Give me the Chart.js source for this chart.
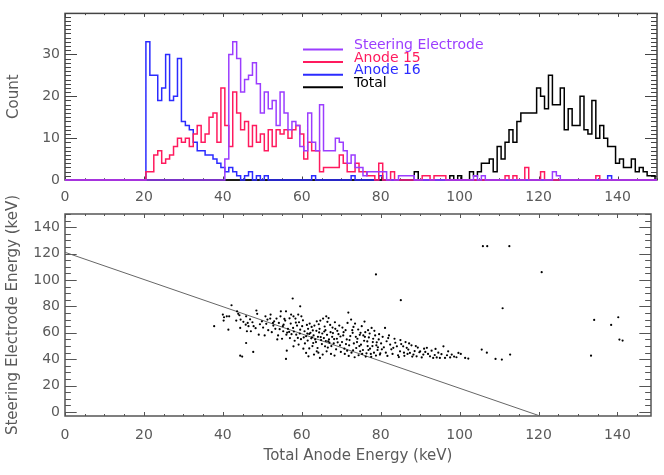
<!DOCTYPE html>
<html>
<head>
<meta charset="utf-8">
<script src="https://cdn.jsdelivr.net/npm/chart.js@4.4.1/dist/chart.umd.min.js"></script>
<style>
  html, body { margin: 0; padding: 0; background: #fff; }
  #wrap { position: relative; width: 664px; height: 475px; }
  #hist { position: absolute; left: 0; top: 0; }
  #scatter { position: absolute; left: 0; top: 160px; }
</style>
</head>
<body>
<div id="wrap">
  <canvas id="hist" width="664" height="208"></canvas>
  <canvas id="scatter" width="664" height="315"></canvas>
</div>
<script>
// 1 keV bins, centres 0..150
var energyBins = [];
for (var e = 0; e <= 150; e++) energyBins.push(e);

// counts per bin, starting at the given bin
var steeringFrom = 41;
var steeringCounts = [
  5,30,33,29,21,24,25,28,23,16,
  21,17,19,13,21,16,12,14,13,8,
  7,16,9,7,18,7,7,7,10,9,
  7,4,6,3,3,1,2,2,2,2,
  2,0,0,0,1,1,1,1,0,0,
  0,0,0,0,0,0,0,0,0,0,
  0,0,0,1,0,1,0,0,0,0,
  0,0,0,0,0,0,0,0,0,0,
  0,0,0,2,1
];

var anode15From = 21;
var anode15Counts = [
  2,2,6,7,4,5,6,8,10,9,
  10,8,11,13,9,11,15,16,9,22,
  13,8,21,16,12,14,8,13,9,11,
  7,12,8,12,11,12,10,12,13,11,
  5,9,7,7,2,3,3,3,3,6,
  4,2,2,4,2,2,1,1,0,4,
  0,0,2,0,0,0,0,0,0,0,
  1,1,0,1,1,1,0,0,0,0,
  0,0,0,0,0,0,0,0,0,0,
  0,1,0,1,0,0,3,0,0,0,
  2,0,0,0,0,0,0,0,0,0,
  0,0,0,0,1
];

var anode16From = 21;
var anode16Counts = [
  33,25,25,19,22,30,19,20,29,14,
  13,12,9,7,7,6,6,5,4,3,
  2,3,2,1,0,1,2,0,1,0,
  1,0,0,0,0,0,0,0,0,0,
  0,0,1,0,0,0,0,0,0,0,
  0,0,1,0,0,0,0,0,0,1,
  0,0,0,0,0,0,0,0,0,0,
  0,0,0,0,0,0,0,0,0,0,
  0,0,0,0,0,0,0,0,0,0,
  0,0,0,0,0,0,0,0,0,0,
  0,0,0,0,0,0,0,0,0,0,
  0,0,0,0,0,0,0,1
];

var totalFrom = 89;
var totalCounts = [
  2,0,0,0,0,0,0,0,0,1,
  0,1,0,0,2,1,2,4,4,5,
  2,8,5,9,12,9,14,16,16,16,
  16,22,20,17,25,18,18,22,12,17,
  13,13,20,12,11,19,10,13,10,8,
  8,4,5,3,3,5,2,3,2,1,1
];

var seriesNames = ['Steering Electrode', 'Anode 15', 'Anode 16', 'Total'];
var seriesColors = ['#9b3dff', '#ff1a5e', '#2b2bff', '#000000'];

// scatter: [total anode energy, steering electrode energy] in keV
var eventPairs = [
  [37.8,65],[40,73.8],[40.2,69.3],[40.3,71.8],[41,72.5],[41.6,72.5],[41.4,62.4],[42.2,80.9],[43.6,76.3],[43.9,74.4],
  [44.2,73.3],[44.5,70],[43.4,69.3],[44.4,63.7],[45.2,68.3],[45.8,66.2],[46.3,67.5],[45.9,72.5],[44.4,42.7],[44.9,42],
  [46.1,61.2],[47.1,61.2],[46.5,65],[47.8,65],[47.7,45.5],[45.9,52.3],[48.5,76.9],[48.7,74.4],[49.1,58.6],[49.9,68.7],
  [50.8,72.5],[51.3,70],[52,70.8],[52.7,67.5],[52.1,73.8],[46.9,70.2],[47.5,68],[48.3,63.5],[49.4,66.5],[50.2,64],
  [53,68.7],[53.6,70.8],[54.2,67.5],[54.6,72.5],[55.4,66.2],[55.8,69.3],[55.2,65],[54.7,76.3],[55.3,61.2],[56.1,58.6],
  [56.8,60.7],[57.8,63.7],[58.6,58.6],[59,56.1],[59.6,62.4],[60.1,65],[60.7,61.2],[61.1,57.4],[61.5,54.1],[61.9,59.2],
  [62.6,56.6],[57.7,86],[59.6,80.1],[56,76.3],[57.3,73.8],[57.9,72.5],[58.4,70.8],[59.1,73.8],[59.9,72.5],[56.2,46.5],
  [56,40.2],[57.9,49.8],[59.2,51.1],[60.4,48],[51.5,62],[52.4,60.5],[53.3,63],[54,58],[55,55.5],[56.5,63],
  [57.2,67],[58,61],[58.8,65.5],[59.3,68],[50.6,58],[53.8,55],[57,56],[58.2,54],[59.5,59.5],[55.6,70.5],
  [56.9,71],[52.8,65.5],[51,66.8],[58.5,67.8],[57.4,59],[54.4,62.8],[59.8,55.2],[56.3,60.2],[60.3,69.5],[61.3,66],
  [61.1,44.8],[61.7,42.2],[62.9,52.3],[63.8,46],[64.6,41],[65.3,43.5],[65.9,49.8],[66.3,46],[66.7,53.6],[63.8,68.7],
  [64.7,69.3],[65.4,70.8],[66.2,72.5],[66.8,71.2],[60.8,52],[61.6,63],[62.2,60],[62.5,64.5],[63,58],[63.4,55],
  [63.7,61.5],[64.1,57],[64.5,63],[64.9,54.5],[65.2,59.5],[65.6,56],[66,62],[66.4,58.5],[66.9,55],[67.3,60.5],
  [67.7,57],[68.1,52],[68.5,63],[68.9,55.5],[69.3,59],[69.7,50.5],[62,67],[63.2,65.5],[64.3,66.5],[65.8,64.8],
  [67.2,66],[68.4,68],[69.5,65.5],[62.7,50],[64,48.5],[65.1,51.5],[66.6,48.8],[67.5,50],[68.7,47.5],[69.9,45.5],
  [62.4,55.8],[63.6,53],[64.8,56.8],[66.1,53.8],[67,52.6],[68.2,55.3],[69.1,52.8],[61.4,59.4],[62.8,61.8],[64.4,60.3],
  [65.7,61],[67.9,59.8],[69.8,57.2],[63.1,43.5],[67.4,44],[68.3,42.8],[60.5,56.5],[66.5,68.3],[69,61.5],[67.8,64],
  [61.9,48.2],[64.2,45],
  [70.2,53],[70.5,58],[70.8,48],[71.1,62],[71.4,55],[71.8,75.3],[72,50.5],[72.3,57.5],[72.6,45],[72.9,60],
  [73.2,52],[73.5,67],[73.8,48.5],[74.1,55.5],[74.4,43],[74.7,58.5],[75,51],[75.2,65],[75.5,47],[75.8,54],
  [76.1,60.5],[76.4,44.5],[76.7,50],[77,56.5],[77.3,48],[77.7,63.7],[78,53],[78.3,45],[78.6,58],[78.9,50.5],
  [79.2,47],[79.5,55],[79.8,43.5],[80.1,52],[70.3,64],[71.6,67.5],[72.5,70],[73.1,64.5],[74.3,62.5],[75.9,68.5],
  [76.8,62],[78.4,61.5],[79.6,59],[70.9,44],[71.9,42.5],[73.4,41.5],[74.8,46],[76.2,42],[77.5,44],[78.8,42.8],
  [79.9,44.5],[81.1,63.7],[80.5,57],[71.2,51.5],[72.1,54.5],[73.7,57],[74.6,50],[75.6,58],[76.6,53.5],[77.9,50],
  [79,52.8],[70.6,60.5],[72.8,62],[74.9,60],[77.2,59.5],[79.3,49],[73,46.8],[75.3,44],[76.9,47],[78.1,55.5],
  [80.3,47.5],[71.5,46.5],[77.6,41.8],[74,53],[76,57],
  [81.5,53.6],[82.4,51.1],[83.2,48.6],[84.1,49.8],[84.9,46],[85.7,49.8],[86.6,48.6],[87.4,44.8],[88.3,43.5],[89.1,42.2],
  [80.8,49],[81.3,45],[81.9,56],[82.7,47.5],[83,44],[83.7,52.5],[84.4,43],[85.2,51.5],[85.9,45],[86.3,53],
  [87,47.3],[87.8,50.5],[88.6,46.2],[89.4,48.8],[82.1,58],[83.5,55.5],[85,54.5],[86.8,44],[88,42],[89.8,45.3],
  [81.7,42.5],[84.6,41.6],[86,42.6],[87.2,52],[88.9,50],
  [90,46],[90.4,41.4],[91.7,48.6],[92.5,42.2],[93.3,41],[94.2,41.4],[95,41],[95.9,49.8],[96.3,41],[97.1,46],
  [97.6,41.4],[98,43.5],[99.7,44.8],[101.4,41],[102.2,40.5],[90.8,43.5],[91.3,45.5],[92,44],[92.9,46.5],[93.7,43.2],
  [94.6,45],[95.4,43.8],[96.8,43],[98.6,42],[99.2,41.5],[100.3,44],[91,48],[93.9,47.8],
  [105.9,125.6],[107,125.6],[112.6,125.6],[78.8,104.2],[120.8,105.9],[85.1,84.7],[110.9,78.6],[134.1,69.8],[140.2,71.8],[138.4,66],
  [140.5,54.9],[141.3,54.1],[133.3,42.7],[105.6,47.3],[106.9,45],[109.1,40.2],[110.7,39.7],[112.8,43.5]
];

// x + y cut line
var cutX = [0, 120.4];
var cutY = [121, -3];

function histPoints(from, counts) {
  return energyBins.map(function (e) {
    var i = e - from;
    return { x: e, y: (i >= 0 && i < counts.length) ? counts[i] : 0 };
  });
}

Chart.defaults.font.family = "'DejaVu Sans', sans-serif";
Chart.defaults.font.size = 14;
Chart.defaults.color = '#5a5a5a';
Chart.defaults.animation = false;

// box with inward ticks on all four sides
var idlFrame = {
  id: 'idlFrame',
  beforeDatasetsDraw: function (chart, args, o) {
    var ctx = chart.ctx, a = chart.chartArea;
    var sx = chart.scales.x, sy = chart.scales.y;
    ctx.save();
    ctx.strokeStyle = o.color;
    ctx.lineWidth = 1;
    ctx.beginPath();
    var v, p, len;
    for (v = Math.ceil(sx.min / o.xMinor) * o.xMinor; v <= sx.max; v += o.xMinor) {
      p = Math.round(sx.getPixelForValue(v)) + 0.5;
      len = (v % o.xMajor === 0) ? o.xLen : o.xLen / 2;
      ctx.moveTo(p, a.bottom); ctx.lineTo(p, a.bottom - len);
      ctx.moveTo(p, a.top); ctx.lineTo(p, a.top + len);
    }
    for (v = Math.ceil(sy.min / o.yMinor) * o.yMinor; v <= sy.max; v += o.yMinor) {
      p = Math.round(sy.getPixelForValue(v)) + 0.5;
      len = (v % o.yMajor === 0) ? o.yLen : o.yLen / 2;
      ctx.moveTo(a.left, p); ctx.lineTo(a.left + len, p);
      ctx.moveTo(a.right, p); ctx.lineTo(a.right - len, p);
    }
    ctx.stroke();
    ctx.lineWidth = o.width;
    ctx.strokeRect(a.left, a.top, a.right - a.left, a.bottom - a.top);
    ctx.restore();
  }
};

// line-sample legend inside the plot
var lineKey = {
  id: 'lineKey',
  afterDraw: function (chart, args, o) {
    var ctx = chart.ctx;
    ctx.save();
    ctx.font = o.size + "px 'DejaVu Sans', sans-serif";
    ctx.textBaseline = 'middle';
    ctx.textAlign = 'left';
    chart.data.datasets.forEach(function (ds, i) {
      var y = o.top + i * o.gap;
      ctx.strokeStyle = ds.borderColor;
      ctx.lineWidth = 2;
      ctx.beginPath();
      ctx.moveTo(o.x0, y);
      ctx.lineTo(o.x1, y);
      ctx.stroke();
      ctx.fillStyle = ds.borderColor;
      ctx.fillText(ds.label, o.textX, y - o.lift);
    });
    ctx.restore();
  }
};

var histSets = [
  [steeringFrom, steeringCounts],
  [anode15From, anode15Counts],
  [anode16From, anode16Counts],
  [totalFrom, totalCounts]
].map(function (s, i) {
  return {
    label: seriesNames[i],
    data: histPoints(s[0], s[1]),
    borderColor: seriesColors[i],
    borderWidth: 1.5,
    stepped: 'middle',
    pointRadius: 0,
    fill: false,
    clip: 4
  };
});

new Chart(document.getElementById('hist'), {
  type: 'line',
  data: { datasets: histSets },
  options: {
    responsive: false,
    events: [],
    layout: { padding: { left: 0, right: 7, top: 4, bottom: 0 } },
    plugins: {
      legend: { display: false },
      tooltip: { enabled: false },
      idlFrame: { color: '#444', width: 1.5, xMajor: 20, xMinor: 5, xLen: 3.5, yMajor: 10, yMinor: 1, yLen: 12 },
      lineKey: { x0: 303, x1: 343, textX: 354, top: 49.5, gap: 12.6, lift: 4, size: 14 }
    },
    scales: {
      x: {
        type: 'linear', min: 0, max: 150,
        grid: { display: false, drawTicks: false }, border: { display: false },
        ticks: { stepSize: 20, padding: 8.6, includeBounds: false, maxRotation: 0 },
        afterFit: function (s) { s.height = 28; }
      },
      y: {
        min: 0, max: 39.8,
        grid: { display: false, drawTicks: false }, border: { display: false },
        ticks: { stepSize: 10, padding: 5, includeBounds: false },
        title: { display: true, text: 'Count', font: { size: 15 }, padding: { top: 5, bottom: 0 } },
        afterFit: function (s) { s.width = 65; }
      }
    }
  },
  plugins: [idlFrame, lineKey]
});

new Chart(document.getElementById('scatter'), {
  type: 'scatter',
  data: {
    datasets: [
      {
        data: eventPairs.map(function (p) { return { x: p[0], y: p[1] }; }),
        pointRadius: 1.1, pointBorderWidth: 0, pointBackgroundColor: '#000'
      },
      {
        data: cutX.map(function (x, i) { return { x: x, y: cutY[i] }; }),
        showLine: true, borderColor: '#666', borderWidth: 1, pointRadius: 0
      }
    ]
  },
  options: {
    responsive: false,
    events: [],
    layout: { padding: { left: 0, right: 13, top: 54, bottom: 0 } },
    plugins: {
      legend: { display: false },
      tooltip: { enabled: false },
      idlFrame: { color: '#555', width: 1.5, xMajor: 20, xMinor: 5, xLen: 4, yMajor: 20, yMinor: 5, yLen: 11.7 }
    },
    scales: {
      x: {
        type: 'linear', min: 0, max: 148.5,
        grid: { display: false, drawTicks: false }, border: { display: false },
        ticks: { stepSize: 20, padding: 10.6, includeBounds: false, maxRotation: 0 },
        title: { display: true, text: 'Total Anode Energy (keV)', font: { size: 15 }, padding: { top: 0, bottom: 10 } },
        afterFit: function (s) { s.height = 59; }
      },
      y: {
        min: -3, max: 150,
        grid: { display: false, drawTicks: false }, border: { display: false },
        ticks: { stepSize: 20, padding: 5, includeBounds: false },
        title: { display: true, text: 'Steering Electrode Energy (keV)', font: { size: 15 }, padding: { top: 4, bottom: 0 } },
        afterFit: function (s) { s.width = 65; }
      }
    }
  },
  plugins: [idlFrame]
});
</script>
</body>
</html>
